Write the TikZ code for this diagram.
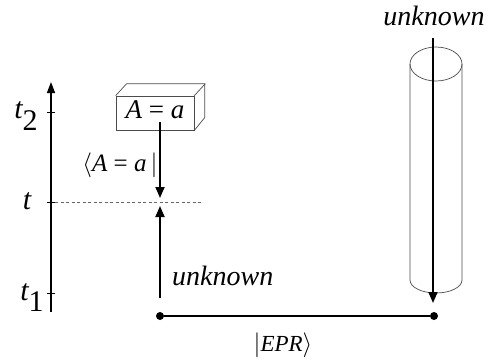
\documentclass[tikz,border=0pt]{standalone}
\usepackage{amsmath}
\usepackage{fontspec}
\setmainfont{Liberation Serif}
\usetikzlibrary{arrows.meta}

\begin{document}
\begin{tikzpicture}[
            x=1pt, y=-1pt,
            axis/.style={line width=1.4pt, -{Triangle[length=11pt,width=8pt]}},
            signal/.style={line width=1.8pt, -{Triangle[length=11pt,width=9pt]}},
            thin3d/.style={draw=black!70, line width=0.7pt},
            lbl/.style={inner sep=0pt, font=\fontsize{28}{30}\selectfont\itshape},
            tlbl/.style={inner sep=0pt, font=\fontsize{30}{32}\selectfont\itshape},
            dot/.style={circle, fill, inner sep=0pt, minimum width=6pt, minimum height=8pt}
        ]
            \useasboundingbox (0,0) rectangle (490,360);

            % time axis
            \coordinate (ax0) at (51,312);
            \coordinate (ax1) at (51,82);
            \draw[axis] (ax0) -- (ax1);
            \foreach \y/\name in {112/t2, 202/t, 293/t1}
                \draw[line width=0.6pt] (47,\y) -- (55,\y) coordinate (tick-\name);
            \node[tlbl] (lt2) at (26,116) {t\raisebox{-12pt}{\upshape 2}};
            \node[tlbl] (lt) at (27,201) {t};
            \node[tlbl] (lt1) at (32,298) {t\raisebox{-11pt}{\upshape 1}};
            \draw[dashed, black!60, line width=0.6pt, dash pattern=on 3pt off 2.5pt] (tick-t) -- (203,202);

            % measurement box
            \node[thin3d, draw, minimum width=78pt, minimum height=34pt, inner sep=0pt] (box) at (155,113) {};
            \draw[thin3d] (box.north west) -- ++(11,-12) -- ++(78,0) -- ++(0,34) -- (box.south east);
            \draw[thin3d] (box.north east) -- ++(11,-12);
            \node[lbl, font=\fontsize{27}{29}\selectfont] (aa) at (155,110) {\textit{A} = \textit{a}};

            % retarded / advanced states
            \coordinate (bra0) at (160,122);
            \coordinate (bra1) at (160,198);
            \draw[signal] (bra0) -- (bra1);
            \node[lbl, font=\fontsize{25}{27}\selectfont] (bra) at (120,165) {$\langle$\textit{A} = \textit{a}\,$|$};

            \node[dot] (src) at (160,316) {};
            \node[dot] (det) at (434,316) {};
            \draw[line width=1.3pt] (src) -- (det);
            \draw[signal] (160,298) -- (160,206);
            \node[lbl, anchor=west] (unk1) at (172,276) {unknown};
            \node[lbl, font=\fontsize{23}{25}\selectfont] (epr) at (283,345) {$|$\textit{EPR}$\rangle$};

            % cylinder
            \draw[thin3d] (436,64) ellipse [x radius=26, y radius=17];
            \draw[thin3d] (410,64) -- (410,280) arc[start angle=180, end angle=0, x radius=26, y radius=13] -- (462,64);
            \node[lbl] (unk2) at (434,16) {unknown};
            \draw[signal] (433,38) -- (433,303);
        \end{tikzpicture}
\end{document}
